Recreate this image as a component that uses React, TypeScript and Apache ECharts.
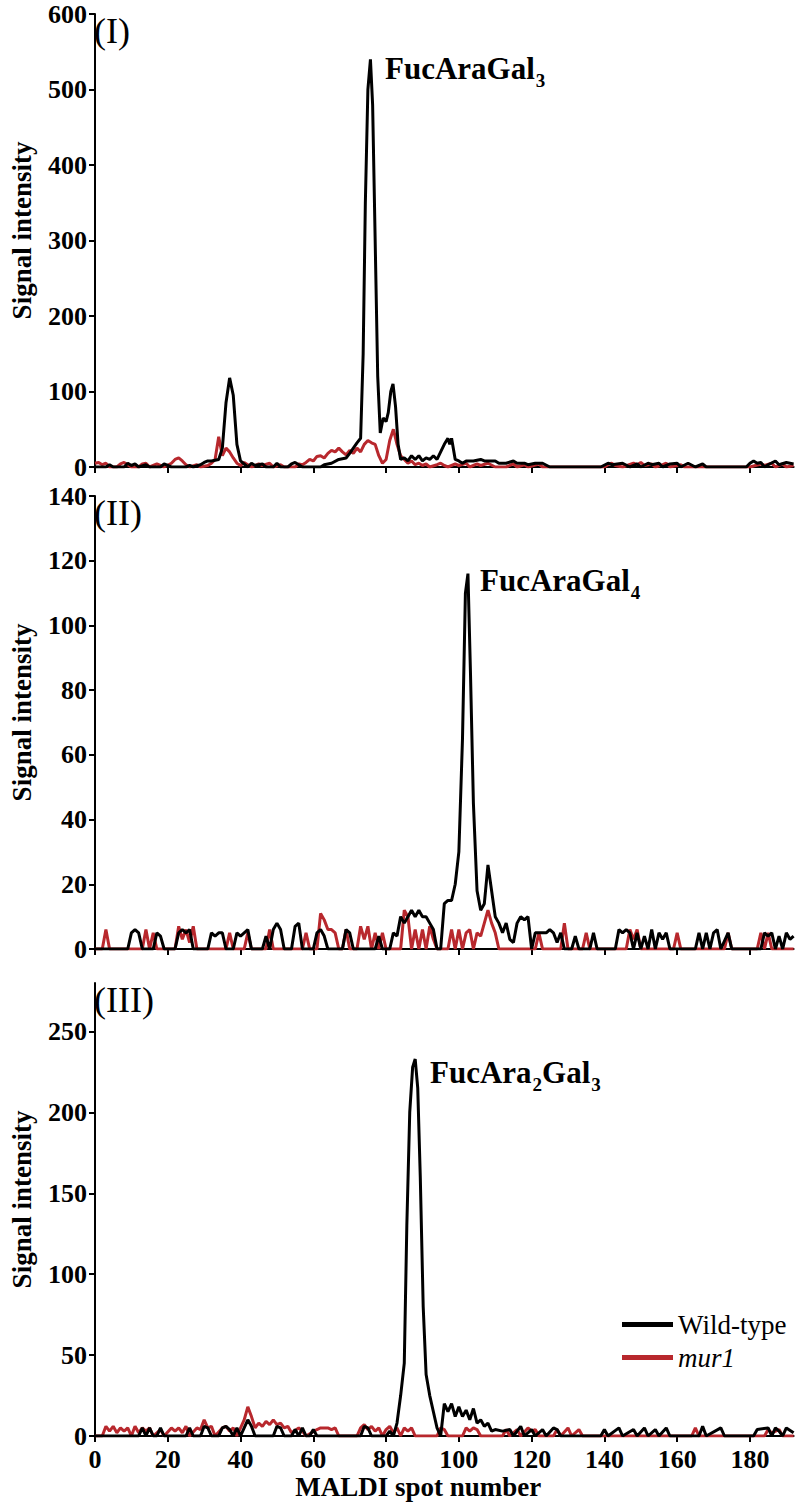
import React, { useEffect, useRef } from "react";
import * as echarts from "echarts";

// Spot-number tick values and y tick values
const xTickValues = [0, 20, 40, 60, 80, 100, 120, 140, 160, 180];
const yTicksI = [0, 100, 200, 300, 400, 500, 600];
const yTicksII = [0, 20, 40, 60, 80, 100, 120, 140];
const yTicksIII = [0, 50, 100, 150, 200, 250];

const seriesNames = ["Wild-type", "mur1"];
const panelTags = ["(I)", "(II)", "(III)"];
const peakLabels = ["FucAraGal{s|3}", "FucAraGal{s|4}", "FucAra{s|2}Gal{s|3}"];

// Panel I – FucAraGal3
const wtI: [number, number][] = [
  [0, 0], [3, 0], [4, 3], [5, 0], [8, 0], [9, 5], [10, 2], [11, 4], [12, 0], [14, 3], [15, 0], [18, 0], [19, 4], [20, 2], [21, 0],
  [25, 0], [26, 2], [27, 0], [29, 3], [30, 6], [31, 8], [32, 8], [33, 9], [34, 10], [35, 25], [36, 85], [37, 118], [38, 95], [39, 30],
  [40, 8], [41, 4], [42, 0], [43, 5], [44, 2], [46, 4], [47, 0], [49, 0], [50, 5], [51, 0], [53, 0], [54, 4], [55, 6], [56, 3], [57, 0],
  [62, 0], [63, 3], [65, 5], [67, 10], [69, 12], [70, 18], [71, 25], [72, 32], [73, 38], [73.7, 150], [74.3, 350], [75, 500],
  [75.7, 540], [76.3, 480], [77, 300], [77.7, 120], [78.4, 45], [79.2, 65], [80, 60], [80.6, 72], [81.3, 100], [81.9, 110],
  [82.6, 80], [83.3, 30], [84, 10], [85, 12], [86, 8], [87, 15], [88, 10], [89, 15], [90, 8], [91, 12], [92, 10], [93, 15], [94, 10],
  [95, 20], [96, 30], [97, 38], [97.5, 30], [98, 38], [99, 10], [100, 8], [101, 5], [102, 8], [104, 8], [106, 10], [107, 8], [110, 8],
  [111, 5], [113, 5], [115, 8], [116, 5], [118, 5], [119, 3], [121, 5], [123, 5], [125, 0], [139, 0], [141, 5], [142, 3], [145, 5],
  [147, 0], [149, 4], [150, 0], [152, 5], [153, 3], [155, 5], [156, 0], [158, 4], [160, 5], [161, 0], [163, 5], [165, 0], [167, 4],
  [168, 0], [179, 0], [180, 5], [181, 8], [182, 5], [183, 6], [184, 0], [185, 3], [187, 8], [188, 3], [190, 6], [192, 4],
];
const muI: [number, number][] = [
  [0, 5], [1, 6], [2, 3], [3, 5], [4, 0], [6, 0], [7, 4], [8, 6], [9, 3], [10, 0], [12, 0], [13, 4], [14, 5], [15, 0], [17, 4], [18, 2],
  [19, 0], [21, 5], [22, 10], [23, 12], [24, 8], [25, 3], [26, 0], [28, 3], [29, 0], [31, 2], [32, 5], [33, 10], [34, 40], [35, 15],
  [36, 25], [37, 20], [38, 12], [39, 5], [40, 2], [41, 6], [42, 3], [43, 0], [45, 4], [46, 2], [48, 5], [49, 0], [51, 3], [52, 0],
  [55, 0], [56, 4], [57, 3], [58, 6], [59, 10], [60, 8], [61, 14], [62, 15], [63, 12], [64, 18], [65, 22], [66, 20], [67, 25], [68, 20],
  [69, 16], [70, 22], [71, 18], [72, 25], [73, 20], [74, 30], [75, 35], [76, 32], [77, 30], [78, 15], [79, 5], [80, 10], [81, 35],
  [82, 50], [83, 30], [84, 15], [85, 10], [86, 5], [87, 8], [88, 3], [89, 5], [90, 2], [91, 4], [92, 0], [94, 3], [95, 5], [96, 2],
  [97, 0], [99, 4], [100, 2], [102, 5], [103, 0], [105, 4], [106, 2], [108, 5], [110, 0], [113, 0], [115, 4], [116, 0], [118, 3],
  [119, 0], [122, 4], [123, 0], [140, 0], [141, 3], [142, 5], [143, 2], [145, 0], [148, 5], [149, 3], [150, 6], [151, 2], [153, 4],
  [154, 0], [156, 3], [157, 5], [158, 0], [161, 3], [162, 0], [180, 0], [183, 4], [184, 2], [186, 5], [187, 0], [189, 4], [190, 0], [192, 2],
];

// Panel II – FucAraGal4
const wtII: [number, number][] = [
  [0, 0], [9, 0], [10, 5], [11, 6], [12, 5], [13, 0], [16, 0], [17, 5], [18, 4], [19, 0], [22, 0], [23, 5], [24, 6], [25, 5], [26, 6],
  [27, 0], [31, 0], [32, 5], [33, 4], [34, 5], [35, 5], [36, 0], [38, 0], [39, 5], [40, 4], [41, 5], [42, 6], [43, 0], [46, 0], [47, 4],
  [48, 0], [49, 6], [50, 8], [51, 6], [52, 0], [54, 0], [55, 7], [56, 8], [57, 0], [60, 0], [61, 5], [62, 6], [63, 4], [64, 0], [68, 0],
  [69, 6], [70, 5], [71, 0], [77, 0], [78, 4], [79, 0], [81, 0], [82, 5], [83, 4], [84, 10], [85, 8], [86, 10], [87, 12], [88, 10],
  [89, 12], [90, 10], [91, 10], [92, 8], [93, 6], [94, 0], [95, 0], [96, 14], [97, 15], [98, 15], [99, 20], [100, 30], [101, 65],
  [101.8, 110], [102.5, 116], [103.2, 85], [104, 45], [105, 18], [106, 12], [107, 14], [108, 26], [109, 18], [110, 10], [111, 8], [112, 5],
  [113, 8], [114, 3], [115, 2], [116, 8], [117, 10], [118, 9], [119, 10], [120, 0], [121, 5], [124, 5], [125, 6], [126, 5], [127, 2],
  [128, 5], [129, 0], [131, 0], [132, 4], [133, 0], [136, 0], [137, 5], [138, 0], [143, 0], [144, 6], [145, 5], [146, 6], [147, 5],
  [148, 0], [149, 5], [150, 0], [151, 4], [152, 0], [153, 6], [154, 0], [155, 5], [156, 3], [157, 5], [158, 0], [165, 0], [166, 5],
  [167, 0], [168, 5], [169, 0], [170, 5], [171, 6], [172, 0], [174, 5], [175, 0], [183, 0], [184, 5], [185, 4], [186, 5], [187, 0],
  [188, 4], [189, 0], [190, 5], [191, 3], [192, 4],
];
const muII: [number, number][] = [
  [0, 0], [2, 0], [3, 6], [4, 0], [13, 0], [14, 6], [15, 0], [16, 5], [17, 0], [22, 0], [23, 7], [24, 3], [25, 6], [26, 2], [27, 7],
  [28, 0], [36, 0], [37, 5], [38, 0], [41, 0], [42, 5], [43, 0], [47, 0], [48, 6], [49, 0], [57, 0], [58, 5], [59, 0], [61, 0], [62, 11],
  [63, 9], [64, 6], [65, 6], [66, 5], [67, 0], [68, 0], [69, 6], [70, 0], [72, 0], [73, 7], [74, 3], [75, 7], [76, 0], [77, 5], [78, 0],
  [79, 5], [80, 0], [84, 0], [85, 12], [86, 10], [87, 0], [88, 6], [89, 0], [90, 6], [91, 0], [92, 7], [93, 3], [94, 0], [97, 0],
  [98, 6], [99, 0], [100, 6], [101, 0], [102, 5], [103, 6], [104, 0], [105, 5], [106, 4], [107, 8], [108, 12], [109, 8], [110, 5],
  [111, 0], [121, 0], [122, 5], [123, 0], [128, 0], [129, 8], [130, 0], [134, 0], [135, 5], [136, 0], [146, 0], [147, 6], [148, 3],
  [149, 6], [150, 0], [159, 0], [160, 5], [161, 0], [173, 0], [174, 5], [175, 0], [182, 0], [183, 5], [184, 0], [185, 5], [186, 0], [192, 0],
];

// Panel III – FucAra2Gal3
const wtIII: [number, number][] = [
  [0, 0], [12, 0], [13, 5], [14, 0], [15, 5], [16, 0], [17, 0], [18, 5], [19, 0], [25, 0], [26, 5], [27, 0], [29, 0], [30, 6], [31, 5],
  [32, 0], [34, 0], [35, 5], [36, 6], [37, 4], [38, 0], [39, 5], [40, 0], [41, 5], [42, 10], [43, 6], [44, 0], [49, 0], [50, 6], [51, 5],
  [52, 0], [54, 0], [55, 4], [56, 0], [57, 5], [58, 0], [59, 0], [60, 4], [61, 0], [73, 0], [74, 6], [75, 5], [76, 0], [80, 0], [81, 3],
  [82, 0], [83, 8], [84, 25], [85, 45], [85.7, 130], [86.5, 200], [87.3, 228], [88, 233], [88.7, 215], [89.4, 160], [90.2, 80],
  [91, 38], [92, 25], [93, 15], [94, 5], [95, 0], [96, 20], [97, 15], [98, 20], [99, 12], [100, 18], [101, 12], [102, 16], [103, 10],
  [104, 17], [105, 8], [106, 10], [107, 6], [108, 8], [109, 3], [110, 4], [112, 3], [114, 4], [115, 0], [117, 6], [118, 0], [120, 4],
  [121, 0], [123, 4], [124, 0], [126, 5], [127, 4], [128, 0], [139, 0], [140, 4], [141, 0], [144, 5], [145, 0], [148, 4], [149, 0],
  [151, 5], [152, 0], [154, 4], [155, 0], [157, 5], [158, 0], [166, 0], [167, 6], [168, 0], [172, 5], [173, 0], [181, 0], [182, 4],
  [185, 5], [186, 0], [187, 5], [188, 3], [189, 0], [190, 5], [192, 2],
];
const muIII: [number, number][] = [
  [0, 0], [2, 0], [3, 6], [4, 3], [5, 6], [6, 2], [7, 5], [8, 3], [9, 5], [10, 0], [11, 6], [12, 2], [13, 5], [14, 3], [15, 5], [16, 0],
  [18, 4], [19, 0], [21, 5], [22, 3], [23, 5], [24, 2], [25, 6], [26, 0], [28, 5], [29, 4], [30, 10], [31, 5], [32, 6], [33, 0], [35, 5],
  [36, 6], [37, 3], [38, 5], [39, 0], [41, 10], [42, 18], [43, 12], [44, 5], [45, 8], [46, 6], [47, 9], [48, 7], [49, 10], [50, 7],
  [51, 8], [52, 5], [53, 6], [54, 2], [56, 5], [57, 3], [58, 0], [61, 4], [62, 5], [64, 5], [65, 4], [66, 5], [67, 0], [72, 0], [73, 5],
  [74, 7], [75, 4], [76, 6], [77, 3], [78, 5], [79, 0], [80, 4], [81, 6], [82, 2], [83, 5], [84, 0], [85, 5], [86, 3], [87, 5], [88, 0],
  [94, 0], [95, 5], [96, 4], [97, 0], [101, 0], [102, 5], [103, 3], [104, 5], [105, 4], [106, 0], [112, 0], [113, 4], [114, 0], [116, 4],
  [117, 0], [119, 5], [120, 3], [121, 4], [122, 0], [126, 0], [127, 4], [128, 0], [130, 5], [131, 0], [133, 4], [134, 0], [164, 0],
  [165, 5], [166, 0], [184, 0], [185, 4], [186, 2], [188, 4], [189, 0], [192, 0],
];

const SERIF = "'Liberation Serif', 'Times New Roman', Times, serif";
const BLACK = "#000000";
const RED = "#b8282d";

export default function App() {
  const ref = useRef<HTMLDivElement>(null);

  useEffect(() => {
    document.body.style.margin = "0";
    const chart = echarts.init(ref.current!, null, { renderer: "svg" });

    const panels = [
      { top: 14, max: 600, ticks: yTicksI, wt: wtI, mu: muI },
      { top: 496, max: 140, ticks: yTicksII, wt: wtII, mu: muII },
      { top: 983, max: 280, ticks: yTicksIII, wt: wtIII, mu: muIII },
    ];
    const plotH = 453;
    const gridLeft = 88;
    const gridW = 705.6;

    const labelFont = { fontFamily: SERIF, fontWeight: "bold" as const, color: BLACK };

    const option: any = {
      animation: false,
      backgroundColor: "#ffffff",
      grid: panels.map((p) => ({ left: gridLeft, top: p.top, width: gridW, height: plotH, containLabel: false })),
      xAxis: panels.map((p, i) => ({
        gridIndex: i,
        type: "value",
        min: 0,
        max: 192,
        interval: 20,
        axisLine: { show: true, onZero: false, lineStyle: { color: BLACK, width: 2 } },
        axisTick: { show: true, inside: false, length: 6, lineStyle: { color: BLACK, width: 2 }, customValues: xTickValues },
        axisLabel: { show: i === 2, customValues: xTickValues, margin: 10, fontSize: 26, ...labelFont },
        splitLine: { show: false },
        name: i === 2 ? "MALDI spot number" : "",
        nameLocation: "middle",
        nameGap: 37,
        nameTextStyle: { fontSize: 27, ...labelFont, padding: [0, 52, 0, 0] },
      })),
      yAxis: panels.map((p, i) => ({
        gridIndex: i,
        type: "value",
        min: 0,
        max: p.max,
        axisLine: { show: true, onZero: false, lineStyle: { color: BLACK, width: 2 } },
        axisTick: { show: true, inside: false, length: 6, lineStyle: { color: BLACK, width: 2 }, customValues: p.ticks },
        axisLabel: { show: true, customValues: p.ticks, margin: 8, fontSize: 26, ...labelFont },
        splitLine: { show: false },
        name: "Signal intensity",
        nameLocation: "middle",
        nameGap: 60,
        nameTextStyle: { fontSize: 27, ...labelFont, padding: [0, 0, 0, 20] },
      })),
      legend: {
        data: seriesNames,
        orient: "vertical",
        left: 617,
        top: 1306,
        itemWidth: 51,
        itemHeight: 5,
        icon: "rect",
        itemGap: 6,
        textStyle: {
          fontFamily: SERIF,
          fontSize: 27,
          color: BLACK,
          rich: { i: { fontFamily: SERIF, fontSize: 27, fontStyle: "italic", color: BLACK } },
        },
        formatter: (n: string) => (n === "mur1" ? "{i|mur1}" : n),
      },
      series: panels.flatMap((p, i) => [
        {
          name: seriesNames[1],
          type: "line",
          xAxisIndex: i,
          yAxisIndex: i,
          data: p.mu,
          showSymbol: false,
          symbol: "none",
          color: RED,
          lineStyle: { color: RED, width: 3 },
          z: 2,
        },
        {
          name: seriesNames[0],
          type: "line",
          xAxisIndex: i,
          yAxisIndex: i,
          data: p.wt,
          showSymbol: false,
          symbol: "none",
          color: BLACK,
          lineStyle: { color: BLACK, width: 3 },
          z: 3,
        },
      ]),
      graphic: [
        ...panels.map((p, i) => ({
          type: "text",
          left: 94,
          top: p.top - 1,
          style: { text: panelTags[i], fontFamily: SERIF, fontSize: 36, fill: BLACK },
        })),
        ...[
          { x: 385, y: 47 },
          { x: 480, y: 559 },
          { x: 430, y: 1051 },
        ].map((pos, i) => ({
          type: "text",
          x: pos.x,
          y: pos.y,
          style: {
            text: peakLabels[i],
            fontFamily: SERIF,
            fontWeight: "bold",
            fontSize: 31,
            fill: BLACK,
            verticalAlign: "top",
            rich: {
              s: { fontFamily: SERIF, fontWeight: "bold", fontSize: 19, fill: BLACK, padding: [24, 0, 0, 1] },
            },
          },
        })),
      ],
    };

    chart.setOption(option);
    return () => chart.dispose();
  }, []);

  return <div ref={ref} style={{ width: 798, height: 1507 }} />;
}
